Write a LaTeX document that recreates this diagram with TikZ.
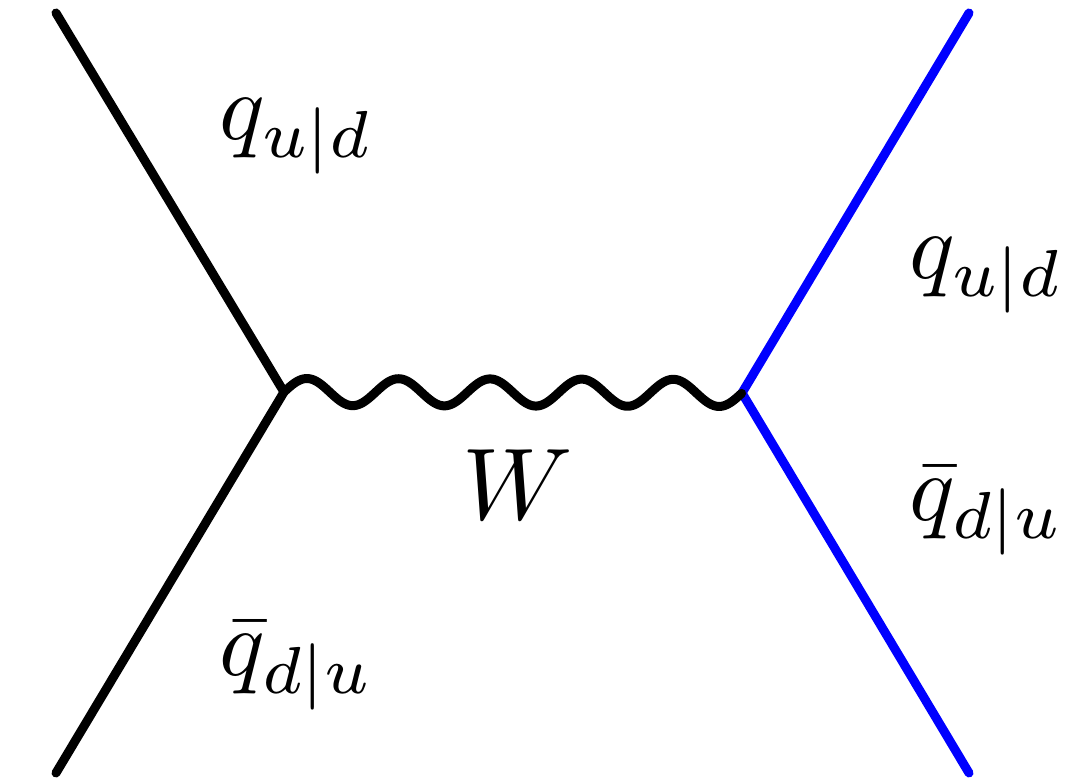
\documentclass[tikz,border=0pt]{standalone}
\begin{document}
\begin{tikzpicture}[x=0.01cm,y=-0.01cm,
  fermion/.style={line width=0.09cm,line cap=round,line join=round},
  boson/.style={line width=0.09cm,line cap=round,line join=round},
  lbl/.style={inner sep=0pt,anchor=base west}]
\useasboundingbox (0,0) rectangle (1075,783);
\coordinate (a1) at (56,13);
\coordinate (a2) at (56,773);
\coordinate (v1) at (284,392);
\coordinate (v2) at (742,393);
\coordinate (b1) at (969,13);
\coordinate (b2) at (969,773);
\draw[fermion] (a1) -- (v1) -- (a2);
\draw[fermion,blue] (b1) -- (v2) -- (b2);
\draw[boson,shift={(v1)}] plot[domain=0:1,samples=300,smooth] ({458*\x},{\x-13.5*sin(1800*\x)});
\node[lbl] (l1) at (219,140) {\scalebox{2.7}{$q_{u|d}$}};
\node[lbl] (l2) at (219,676) {\scalebox{2.7}{$\bar{q}_{d|u}$}};
\node[lbl] (r1) at (909,279) {\scalebox{2.7}{$q_{u|d}$}};
\node[lbl] (r2) at (909,521) {\scalebox{2.7}{$\bar{q}_{d|u}$}};
\node[lbl] (w) at (462,520) {\scalebox{2.9}{$W$}};
\end{tikzpicture}
\end{document}
